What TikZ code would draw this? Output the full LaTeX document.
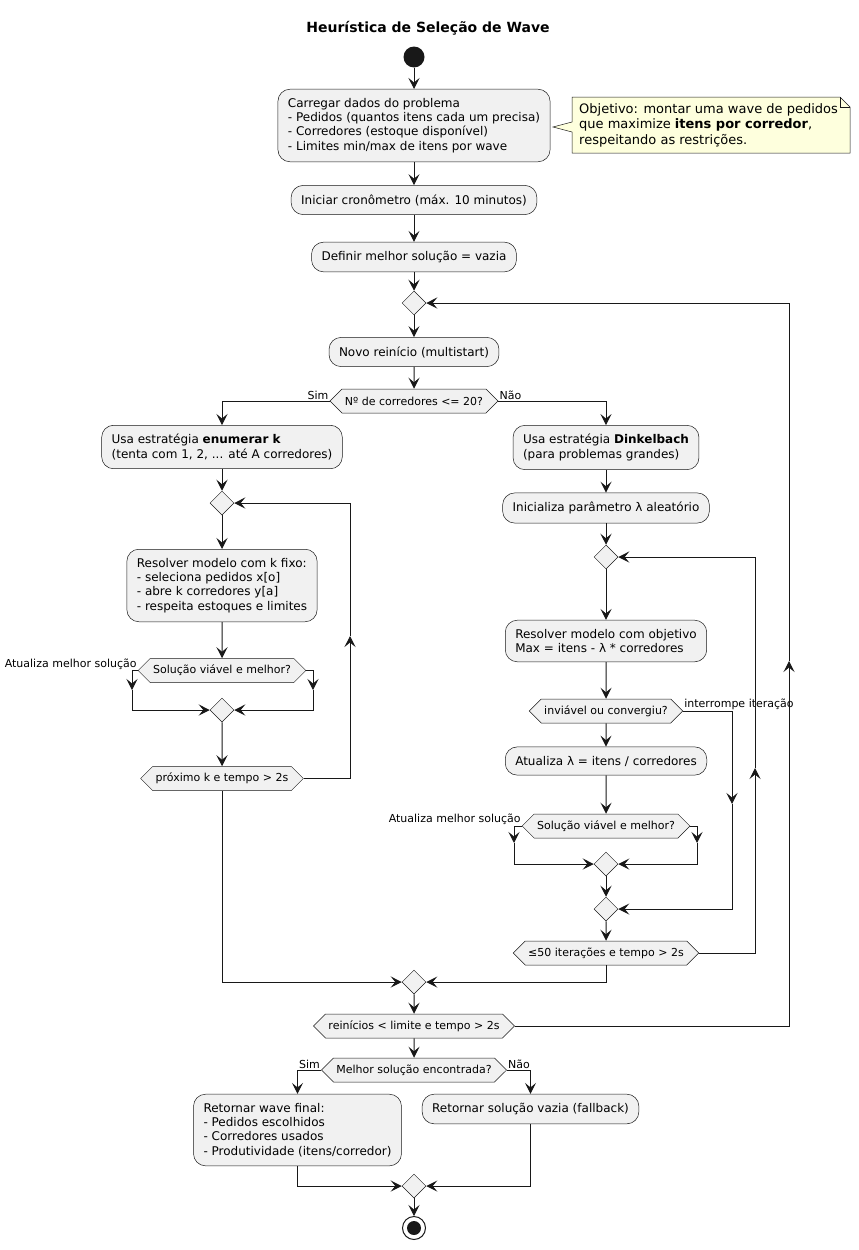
\documentclass[tikz,border=0pt]{standalone}
\usepackage{fontspec}
\setmainfont{DejaVu Sans}
\usepackage{tikz}
\usetikzlibrary{arrows.meta,positioning,shapes.geometric,shapes.symbols}
\definecolor{ink}{HTML}{181818}
\definecolor{actfill}{HTML}{F1F1F1}
\definecolor{notefill}{HTML}{FEFFDD}
\tikzset{
  act/.style={draw=ink,fill=actfill,line width=0.5pt,rounded corners=12pt,align=left,inner xsep=10pt,inner ysep=9pt,font=\fontsize{12}{14.3}\selectfont},
  hexa/.style={signal,signal to=east and west,signal pointer angle=90,draw=ink,fill=actfill,line width=0.5pt,minimum height=24pt,inner xsep=3pt,inner ysep=0pt,font=\fontsize{11}{13}\selectfont},
  merge/.style={diamond,draw=ink,fill=actfill,line width=0.5pt,minimum width=24pt,minimum height=24pt,inner sep=0pt},
  blab/.style={font=\fontsize{11}{13}\selectfont,inner sep=1pt},
  arr/.style={-{Stealth[length=11pt,width=11pt,inset=4.5pt]},line width=1pt,draw=ink},
  line/.style={line width=1pt,draw=ink}
}

\begin{document}
\begin{tikzpicture}[x=1pt,y=-1pt]
  \useasboundingbox (0,0) rectangle (859,1250);
  \node[font=\fontsize{14}{17}\selectfont\bfseries] (title) at (428,28) {Heurística de Seleção de Wave};
  % start and first steps
  \node[circle,fill=ink,minimum size=21pt,inner sep=0pt] (start) at (414,57) {};
  \node[act] (load) at (414,125.5) {Carregar dados do problema\\- Pedidos (quantos itens cada um precisa)\\- Corredores (estoque disponível)\\- Limites min/max de itens por wave};
  \node[act] (clock) at (414,200) {Iniciar cronômetro (máx. 10 minutos)};
  \node[act] (best) at (414,257) {Definir melhor solução = vazia};
  % note
  \draw[draw=ink,fill=notefill,line width=0.5pt] (572,97) -- (840,97) -- (850,107) -- (850,153) -- (572,153) -- (572,132) -- (553,127) -- (572,122) -- cycle;
  \draw[draw=ink,line width=0.5pt] (840,97) -- (840,107) -- (850,107);
  \node[anchor=west,align=left,inner sep=0pt,font=\fontsize{13}{15.5}\selectfont] (goal) at (579,125) {Objetivo: montar uma wave de pedidos\\que maximize \textbf{itens por corredor},\\respeitando as restrições.};
  % multistart loop
  \node[merge] (rep) at (414,303) {};
  \node[act] (restart) at (414,352) {Novo reinício (multistart)};
  \node[hexa] (size) at (414,401) {Nº de corredores <= 20?};
  % left branch: enumerar k
  \node[act] (enum) at (222,447) {Usa estratégia \textbf{enumerar k}\\(tenta com 1, 2, ... até A corredores)};
  \node[merge] (krep) at (222,503) {};
  \node[act] (kfix) at (222,585.5) {Resolver modelo com k fixo:\\- seleciona pedidos x[o]\\- abre k corredores y[a]\\- respeita estoques e limites};
  \node[hexa] (kbest) at (222,670.5) {Solução viável e melhor?};
  \node[merge] (kend) at (222,710) {};
  \node[hexa] (knext) at (222,778.5) {próximo k e tempo > 2s};
  % right branch: Dinkelbach
  \node[act] (dink) at (606,447.5) {Usa estratégia \textbf{Dinkelbach}\\(para problemas grandes)};
  \node[act] (lam) at (606,508) {Inicializa parâmetro λ aleatório};
  \node[merge] (drep) at (606,557) {};
  \node[act] (dsolve) at (606,641) {Resolver modelo com objetivo\\Max = itens - λ * corredores};
  \node[hexa] (conv) at (606,711) {inviável ou convergiu?};
  \node[act] (upd) at (606,761) {Atualiza λ = itens / corredores};
  \node[hexa] (dbest) at (606,826) {Solução viável e melhor?};
  \node[merge] (dend) at (606,864) {};
  \node[merge] (dstop) at (606,909) {};
  \node[hexa] (dnext) at (606,953) {≤50 iterações e tempo > 2s};
  % end of loop and result
  \node[merge] (join) at (414,982) {};
  \node[hexa] (again) at (414,1026) {reinícios < limite e tempo > 2s};
  \node[hexa] (found) at (414,1070) {Melhor solução encontrada?};
  \node[act] (ret) at (297.5,1130) {Retornar wave final:\\- Pedidos escolhidos\\- Corredores usados\\- Produtividade (itens/corredor)};
  \node[act] (empty) at (530.5,1109) {Retornar solução vazia (fallback)};
  \node[merge] (fin) at (414,1186) {};
  \node[circle,draw=ink,line width=1pt,minimum size=23pt,inner sep=0pt] (stop) at (414,1228) {};
  \node[circle,fill=ink,minimum size=14pt,inner sep=0pt] (stopdot) at (414,1228) {};
  % branch labels
  \node[blab,anchor=south east] (simA) at (size.west) {Sim};
  \node[blab,anchor=south west] (naoA) at (size.east) {Não};
  \node[blab,anchor=south east] (updA) at (kbest.west) {Atualiza melhor solução};
  \node[blab,anchor=south west] (brk) at (conv.east) {interrompe iteração};
  \node[blab,anchor=south east] (updB) at (dbest.west) {Atualiza melhor solução};
  \node[blab,anchor=south east] (simB) at (found.west) {Sim};
  \node[blab,anchor=south west] (naoB) at (found.east) {Não};
  % helper points for the arrows in the middle of lines
  \coordinate (kupL) at (132,690);
  \coordinate (kupR) at (313,690);
  \coordinate (kback) at (350,636);
  \coordinate (dupL) at (514,843);
  \coordinate (dupR) at (697,843);
  \coordinate (brkdn) at (732,804);
  \coordinate (dback) at (755,768);
  \coordinate (rback) at (789,661);
  % connectors
  \draw[arr] (start) -- (load);
  \draw[arr] (load) -- (clock);
  \draw[arr] (clock) -- (best);
  \draw[arr] (best) -- (rep);
  \draw[arr] (rep) -- (restart);
  \draw[arr] (restart) -- (size);
  \draw[arr] (size.west) -| (enum.north);
  \draw[arr] (size.east) -| (dink.north);
  \draw[arr] (enum) -- (krep);
  \draw[arr] (krep) -- (kfix);
  \draw[arr] (kfix) -- (kbest);
  \draw[arr] (kbest.west) -| (kupL);
  \draw[arr] (kupL) |- (kend.west);
  \draw[arr] (kbest.east) -| (kupR);
  \draw[arr] (kupR) |- (kend.east);
  \draw[arr] (kend) -- (knext);
  \draw[arr] (knext.east) -| (kback);
  \draw[arr] (kback) |- (krep.east);
  \draw[arr] (knext.south) |- (join.west);
  \draw[arr] (dink) -- (lam);
  \draw[arr] (lam) -- (drep);
  \draw[arr] (drep) -- (dsolve);
  \draw[arr] (dsolve) -- (conv);
  \draw[arr] (conv) -- (upd);
  \draw[arr] (conv.east) -| (brkdn);
  \draw[arr] (brkdn) |- (dstop.east);
  \draw[arr] (upd) -- (dbest);
  \draw[arr] (dbest.west) -| (dupL);
  \draw[arr] (dupL) |- (dend.west);
  \draw[arr] (dbest.east) -| (dupR);
  \draw[arr] (dupR) |- (dend.east);
  \draw[arr] (dend) -- (dstop);
  \draw[arr] (dstop) -- (dnext);
  \draw[arr] (dnext.east) -| (dback);
  \draw[arr] (dback) |- (drep.east);
  \draw[arr] (dnext.south) |- (join.east);
  \draw[arr] (join) -- (again);
  \draw[arr] (again.east) -| (rback);
  \draw[arr] (rback) |- (rep.east);
  \draw[arr] (again) -- (found);
  \draw[arr] (found.west) -| (ret.north);
  \draw[arr] (found.east) -| (empty.north);
  \draw[arr] (ret.south) |- (fin.west);
  \draw[arr] (empty.south) |- (fin.east);
  \draw[arr] (fin) -- (stop);
\end{tikzpicture}
\end{document}
